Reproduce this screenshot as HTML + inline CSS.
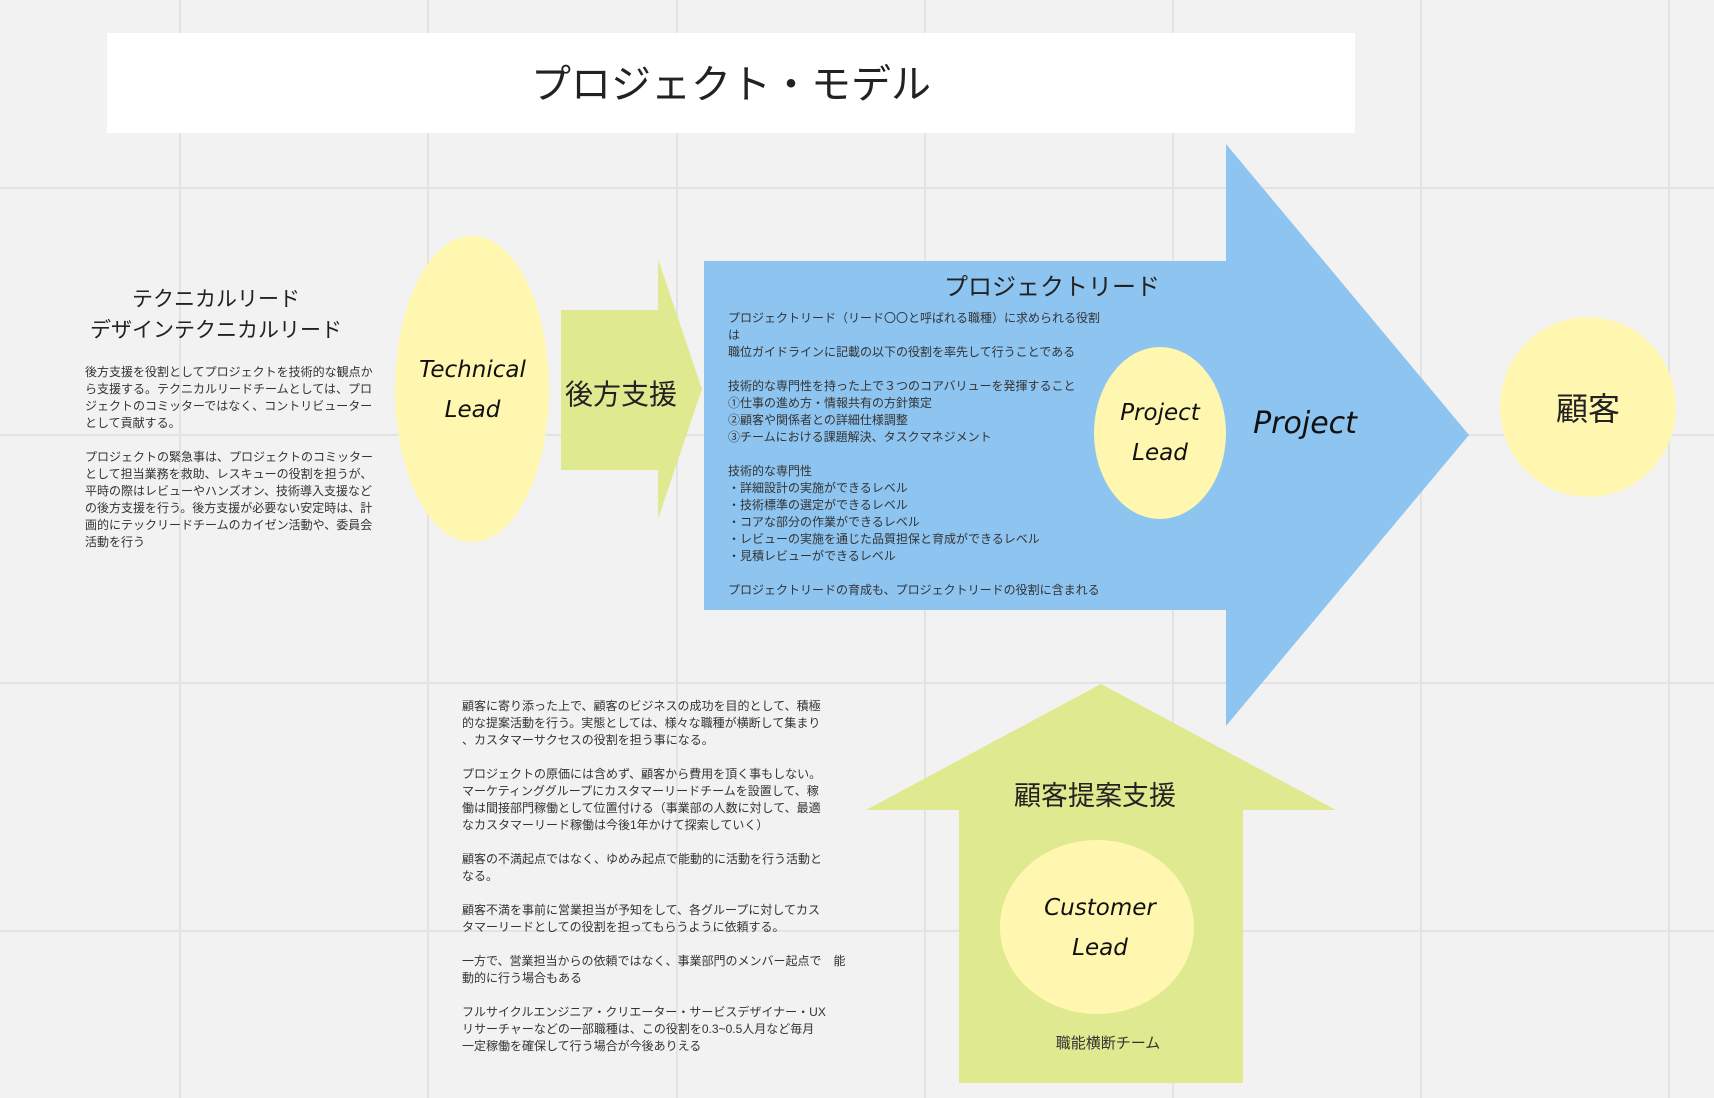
<!DOCTYPE html>
<html><head><meta charset="utf-8"><style>
body{margin:0;width:1714px;height:1098px;background:#f2f2f2;position:relative;overflow:hidden;font-family:"Liberation Sans","Noto Sans CJK JP",sans-serif;color:#222}
.t{position:absolute;white-space:nowrap}
.p{position:absolute;font-size:12px;line-height:17px;color:#333;white-space:nowrap}
.hand{font-family:"DejaVu Sans","Liberation Sans",sans-serif;font-style:italic;color:#111}
</style></head><body>
<svg width="1714" height="1098" style="position:absolute;left:0;top:0">
<g stroke="#e3e3e3" stroke-width="2">
<line x1="180" y1="0" x2="180" y2="1098"/><line x1="428" y1="0" x2="428" y2="1098"/><line x1="677" y1="0" x2="677" y2="1098"/><line x1="925" y1="0" x2="925" y2="1098"/><line x1="1173" y1="0" x2="1173" y2="1098"/><line x1="1421" y1="0" x2="1421" y2="1098"/><line x1="1669" y1="0" x2="1669" y2="1098"/>
<line x1="0" y1="188" x2="1714" y2="188"/><line x1="0" y1="435" x2="1714" y2="435"/><line x1="0" y1="683" x2="1714" y2="683"/><line x1="0" y1="931" x2="1714" y2="931"/>
</g>
<rect x="107" y="33" width="1248" height="100" fill="#fff"/>
<polygon points="561,310 658,310 658,259 702,389 658,519 658,470 561,470" fill="#dfe98f"/>
<polygon points="704,261 1226,261 1226,144 1469,435 1226,726 1226,610 704,610" fill="#8ec4f0"/>
<polygon points="1101,684 1336,810 1243,810 1243,1083 959,1083 959,810 866,810" fill="#dfe98f"/>
<ellipse cx="472" cy="389" rx="77" ry="153" fill="#fff7b0"/>
<ellipse cx="1160" cy="433" rx="66" ry="86" fill="#fff7b0"/>
<ellipse cx="1588" cy="407" rx="88" ry="90" fill="#fff7b0"/>
<ellipse cx="1097" cy="927" rx="97" ry="87" fill="#fff7b0"/>
</svg>
<div class="t" style="left:107px;width:1248px;top:52px;text-align:center;font-size:40px">プロジェクト・モデル</div>
<div class="t" style="left:60px;width:312px;top:284px;text-align:center;font-size:21px;line-height:31px">テクニカルリード<br>デザインテクニカルリード</div>
<div class="p" style="left:85px;top:364px">後方支援を役割としてプロジェクトを技術的な観点か<br>ら支援する。テクニカルリードチームとしては、プロ<br>ジェクトのコミッターではなく、コントリビューター<br>として貢献する。<br><br>プロジェクトの緊急事は、プロジェクトのコミッター<br>として担当業務を救助、レスキューの役割を担うが、<br>平時の際はレビューやハンズオン、技術導入支援など<br>の後方支援を行う。後方支援が必要ない安定時は、計<br>画的にテックリードチームのカイゼン活動や、委員会<br>活動を行う</div>
<div class="t hand" style="left:395px;width:155px;top:350px;text-align:center;font-size:23px;line-height:40px">Technical<br>Lead</div>
<div class="t" style="left:561px;width:120px;top:373px;text-align:center;font-size:28px">後方支援</div>
<div class="t" style="left:900px;width:304px;top:267px;text-align:center;font-size:24px">プロジェクトリード</div>
<div class="p" style="left:728px;top:310px">プロジェクトリード（リード〇〇と呼ばれる職種）に求められる役割<br>は<br>職位ガイドラインに記載の以下の役割を率先して行うことである<br><br>技術的な専門性を持った上で３つのコアバリューを発揮すること<br>①仕事の進め方・情報共有の方針策定<br>②顧客や関係者との詳細仕様調整<br>③チームにおける課題解決、タスクマネジメント<br><br>技術的な専門性<br>・詳細設計の実施ができるレベル<br>・技術標準の選定ができるレベル<br>・コアな部分の作業ができるレベル<br>・レビューの実施を通じた品質担保と育成ができるレベル<br>・見積レビューができるレベル<br><br>プロジェクトリードの育成も、プロジェクトリードの役割に含まれる</div>
<div class="t hand" style="left:1094px;width:132px;top:393px;text-align:center;font-size:23px;line-height:40px">Project<br>Lead</div>
<div class="t hand" style="left:1250px;width:110px;top:406px;text-align:center;font-size:30px">Project</div>
<div class="t" style="left:1520px;width:136px;top:384px;text-align:center;font-size:32px">顧客</div>
<div class="p" style="left:462px;top:698px">顧客に寄り添った上で、顧客のビジネスの成功を目的として、積極<br>的な提案活動を行う。実態としては、様々な職種が横断して集まり<br>、カスタマーサクセスの役割を担う事になる。<br><br>プロジェクトの原価には含めず、顧客から費用を頂く事もしない。<br>マーケティンググループにカスタマーリードチームを設置して、稼<br>働は間接部門稼働として位置付ける（事業部の人数に対して、最適<br>なカスタマーリード稼働は今後1年かけて探索していく）<br><br>顧客の不満起点ではなく、ゆめみ起点で能動的に活動を行う活動と<br>なる。<br><br>顧客不満を事前に営業担当が予知をして、各グループに対してカス<br>タマーリードとしての役割を担ってもらうように依頼する。<br><br>一方で、営業担当からの依頼ではなく、事業部門のメンバー起点で　能<br>動的に行う場合もある<br><br>フルサイクルエンジニア・クリエーター・サービスデザイナー・UX<br>リサーチャーなどの一部職種は、この役割を0.3~0.5人月など毎月<br>一定稼働を確保して行う場合が今後ありえる</div>
<div class="t" style="left:995px;width:200px;top:774px;text-align:center;font-size:27px">顧客提案支援</div>
<div class="t hand" style="left:1020px;width:160px;top:888px;text-align:center;font-size:23px;line-height:40px">Customer<br>Lead</div>
<div class="t" style="left:1040px;width:136px;top:1032px;text-align:center;font-size:15px;color:#333">職能横断チーム</div>
</body></html>
